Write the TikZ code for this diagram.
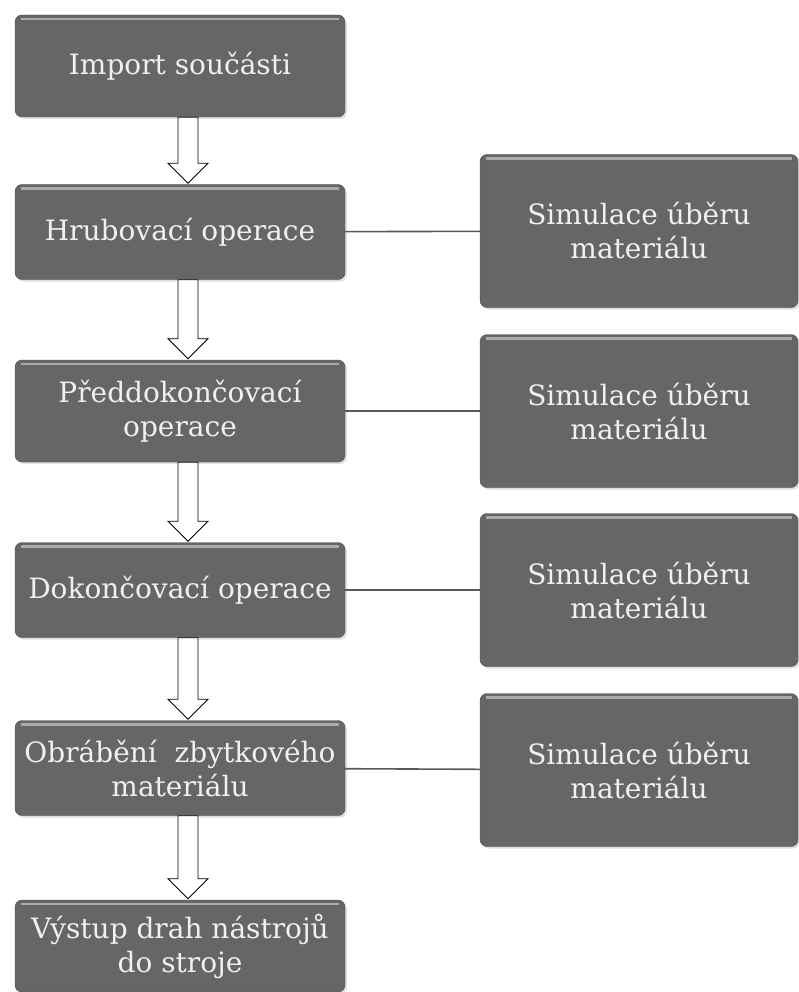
\documentclass[tikz,border=0pt]{standalone}
\usepackage{fontspec}
\setmainfont{DejaVu Serif}
\usetikzlibrary{calc,shadows}

\definecolor{boxgray}{RGB}{102,102,102}
\definecolor{boxedge}{RGB}{80,80,80}
\definecolor{linegray}{RGB}{88,88,88}

\tikzset{
  stepbox/.style={rectangle,
                  rounded corners=7pt,
                  draw=boxedge,
                  fill=boxgray,
                  text=white!94!black,
                  align=center,
                  font=\fontsize{28}{34}\selectfont,
                  minimum width=330pt,
                  minimum height=95pt,
                  inner sep=2pt,
                  drop shadow={shadow xshift=2pt, shadow yshift=-2pt, fill=black!25},
                  path picture={\draw[boxgray!55!white, line width=2.5pt]
                    ([xshift=6pt,yshift=-4pt]path picture bounding box.north west)
                    -- ([xshift=-6pt,yshift=-4pt]path picture bounding box.north east);}},
  simbox/.style={stepbox,
                 minimum width=318pt,
                 minimum height=153pt},
  link/.style={draw=linegray, line width=1.6pt},
  hollow/.style={draw=black, fill=white, line width=0.8pt, line join=miter}
}

% hollow block arrow from the bottom of #1 to the top of #2
\newcommand{\flowarrow}[2]{%
  \path[hollow] let \p1=($(#1.south)+(8,0)$), \p2=($(#2.north)+(8,-1)$) in
    (\x1-10pt,\y1) -- (\x1-10pt,\y2+20pt) -- (\x1-20pt,\y2+20pt) -- (\x1,\y2)
    -- (\x1+20pt,\y2+20pt) -- (\x1+10pt,\y2+20pt) -- (\x1+10pt,\y1) -- cycle;}

\begin{document}
\begin{tikzpicture}[x=1pt,y=-1pt]

    \useasboundingbox (0,0) rectangle (799,992);

    % main sequence
    \node[stepbox, minimum height=102pt] (import) at (180,66) {Import součásti};
    \node[stepbox] (rough) at (180,232) {Hrubovací operace};
    \node[stepbox, minimum height=102pt] (semi) at (180,411) {Předdokončovací\\operace};
    \node[stepbox] (finish) at (180,590) {Dokončovací operace};
    \node[stepbox] (rest) at (180,768) {Obrábění\ \ zbytkového\\materiálu};
    \node[stepbox, minimum height=92pt] (output) at (180,946) {Výstup drah nástrojů\\do stroje};

    % simulations
    \node[simbox] (sim1) at (639,231) {Simulace úběru\\materiálu};
    \node[simbox] (sim2) at (639,411) {Simulace úběru\\materiálu};
    \node[simbox] (sim3) at (639,590) {Simulace úběru\\materiálu};
    \node[simbox] (sim4) at (639,770) {Simulace úběru\\materiálu};

    \flowarrow{import}{rough}
    \flowarrow{rough}{semi}
    \flowarrow{semi}{finish}
    \flowarrow{finish}{rest}
    \flowarrow{rest}{output}

    \path[link]
    (rough) -- (sim1)
    (semi) -- (sim2)
    (finish) -- (sim3)
    (rest) -- (sim4);

\end{tikzpicture}
\end{document}
